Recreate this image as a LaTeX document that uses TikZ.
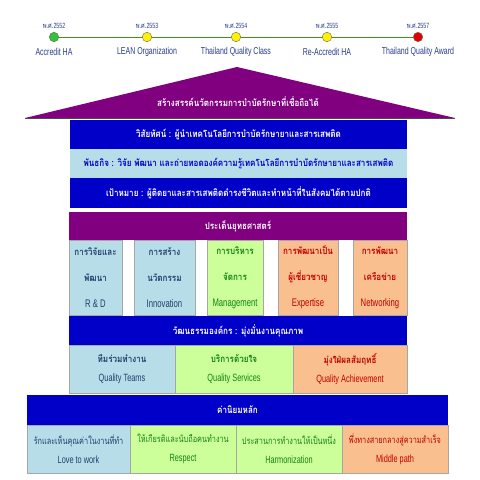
\documentclass[tikz,border=0pt]{standalone}
\usepackage{fontspec}
\setmainfont[FakeStretch=0.7]{Liberation Sans}
\newfontfamily\thai[Script=Thai,FakeStretch=0.85]{Loma}
\newfontfamily\thain[Script=Thai,FakeStretch=0.77]{Loma}
\definecolor{dblue}{RGB}{0,0,200}
\definecolor{purp}{RGB}{128,0,128}
\definecolor{lblue}{RGB}{183,221,232}
\definecolor{lgreen}{RGB}{204,255,153}
\definecolor{lorange}{RGB}{250,191,143}
\definecolor{tblue}{RGB}{31,63,110}
\definecolor{tgreen}{RGB}{20,130,20}
\definecolor{tred}{RGB}{192,0,0}
\definecolor{tline}{RGB}{60,150,20}
\definecolor{navy}{RGB}{40,60,140}
\newcommand\cellbox[7]{\node[#2, minimum width={#5-#3}, minimum height={#6-#4}] (#1) at ({(#3+#5)/2},{(#4+#6)/2}) {#7};}
\begin{document}
\begin{tikzpicture}[x=1pt,y=-1pt,
  cell/.style={inner sep=0pt, align=center, font=\fontsize{10.5}{19}\selectfont},
  band/.style={cell, fill=dblue, text=white, font=\fontsize{9.5}{12}\selectfont\bfseries},
  pband/.style={band, fill=purp},
  blueC/.style={cell, fill=lblue, draw=gray!70, text=tblue},
  greenC/.style={cell, fill=lgreen, draw=gray!70, text=tgreen},
  orangeC/.style={cell, fill=lorange, draw=gray!70, text=tred},
  strat/.style={font=\fontsize{11}{26}\selectfont},
  dot/.style={circle, draw=black!60, line width=0.4pt, minimum size=9.5pt, inner sep=0pt},
  year/.style={font=\fontsize{7.5}{8}\selectfont, text=navy},
  tlab/.style={font=\fontsize{10}{11}\selectfont, text=navy}]
\useasboundingbox (0,0) rectangle (480,480);
% timeline
\node[dot, fill=green!70!black!80] (d1) at (54,37) {};
\node[dot, fill=yellow] (d2) at (147,37) {};
\node[dot, fill=yellow] (d3) at (236,37) {};
\node[dot, fill=yellow] (d4) at (327,37) {};
\node[dot, fill=red!90!black] (d5) at (418,37) {};
\draw[tline, line width=0.9pt] (d1) -- (d2) -- (d3) -- (d4) -- (d5);
\node[year] (y1) at (54,26) {{\thain พ.ศ.}2552};
\node[year] (y2) at (147,26) {{\thain พ.ศ.}2553};
\node[year] (y3) at (236,26) {{\thain พ.ศ.}2554};
\node[year] (y4) at (327,26) {{\thain พ.ศ.}2555};
\node[year] (y5) at (418,26) {{\thain พ.ศ.}2557};
\node[tlab] (l1) at (54,52) {Accredit HA};
\node[tlab] (l2) at (147,52) {LEAN Organization};
\node[tlab] (l3) at (236,52) {Thailand Quality Class};
\node[tlab] (l4) at (327,52) {Re-Accredit HA};
\node[tlab] (l5) at (418,52) {Thailand Quality Award};
% roof
\fill[purp] (237,67) -- (455,118) -- (25,118) -- cycle;
\draw[black!70, line width=0.8pt] (25,118) -- (455,118);
\node[text=white, font=\fontsize{9.5}{12}\selectfont\bfseries] (roof) at (238,102) {\thai สร้างสรรค์นวัตกรรมการบำบัดรักษาที่เชื่อถือได้};
% vision / mission / goal
\cellbox{vision}{band}{70}{120}{407}{149}{\thai วิสัยทัศน์ : ผู้นำเทคโนโลยีการบำบัดรักษายาและสารเสพติด}
\cellbox{mission}{cell, fill=lblue, text=dblue, font=\fontsize{9.5}{12}\selectfont\bfseries}{70}{149}{407}{178}{\thai พันธกิจ : วิจัย พัฒนา และถ่ายทอดองค์ความรู้เทคโนโลยีการบำบัดรักษายาและสารเสพติด}
\cellbox{goal}{band}{70}{178}{407}{208}{\thai เป้าหมาย : ผู้ติดยาและสารเสพติดดำรงชีวิตและทำหน้าที่ในสังคมได้ตามปกติ}
% strategy
\cellbox{strategy}{pband}{69}{212}{407}{240}{\thai ประเด็นยุทธศาสตร์}
\cellbox{s1}{blueC, strat}{69}{240}{122}{315}{{\thai\bfseries\fontsize{9.5}{26}\selectfont การวิจัยและ}\\{\thai\bfseries\fontsize{9.5}{26}\selectfont พัฒนา}\\R \& D}
\cellbox{s2}{blueC, strat}{134}{240}{195}{315}{{\thai\bfseries\fontsize{9.5}{26}\selectfont การสร้าง}\\{\thai\bfseries\fontsize{9.5}{26}\selectfont นวัตกรรม}\\Innovation}
\cellbox{s3}{greenC, strat}{207}{240}{263}{315}{{\thai\bfseries\fontsize{9.5}{26}\selectfont การบริหาร}\\{\thai\bfseries\fontsize{9.5}{26}\selectfont จัดการ}\\Management}
\cellbox{s4}{orangeC, strat}{278}{240}{338}{315}{{\thai\bfseries\fontsize{9.5}{26}\selectfont การพัฒนาเป็น}\\{\thai\bfseries\fontsize{9.5}{26}\selectfont ผู้เชี่ยวชาญ}\\Expertise}
\cellbox{s5}{orangeC, strat}{353}{240}{407}{315}{{\thai\bfseries\fontsize{9.5}{26}\selectfont การพัฒนา}\\{\thai\bfseries\fontsize{9.5}{26}\selectfont เครือข่าย}\\Networking}
% culture
\cellbox{culture}{band}{69}{316}{407}{345}{\thai วัฒนธรรมองค์กร : มุ่งมั่นงานคุณภาพ}
\cellbox{q1}{blueC}{69}{345}{175}{393}{{\thai\bfseries\fontsize{9.5}{19}\selectfont ทีมร่วมทำงาน}\\Quality Teams}
\cellbox{q2}{greenC}{175}{345}{293}{393}{{\thai\bfseries\fontsize{9.5}{19}\selectfont บริการด้วยใจ}\\Quality Services}
\cellbox{q3}{orangeC}{293}{345}{407}{393}{{\thai\bfseries\fontsize{9.5}{19}\selectfont มุ่งใฝ่ผลสัมฤทธิ์}\\Quality Achievement}
% values
\cellbox{values}{band}{27}{395}{448}{425}{\thai ค่านิยมหลัก}
\cellbox{v1}{blueC}{27}{425}{130}{473}{{\thain\fontsize{9.5}{19}\selectfont รักและเห็นคุณค่าในงานที่ทำ}\\Love to work}
\cellbox{v2}{greenC}{130}{425}{236}{473}{{\thain\fontsize{9.5}{19}\selectfont ให้เกียรติและนับถือคนทำงาน}\\Respect}
\cellbox{v3}{greenC}{236}{425}{342}{473}{{\thain\fontsize{9.5}{19}\selectfont ประสานการทำงานให้เป็นหนึ่ง}\\Harmonization}
\cellbox{v4}{orangeC}{342}{425}{448}{473}{{\thain\fontsize{9.5}{19}\selectfont พึ่งทางสายกลางสู่ความสำเร็จ}\\Middle path}
\end{tikzpicture}
\end{document}
